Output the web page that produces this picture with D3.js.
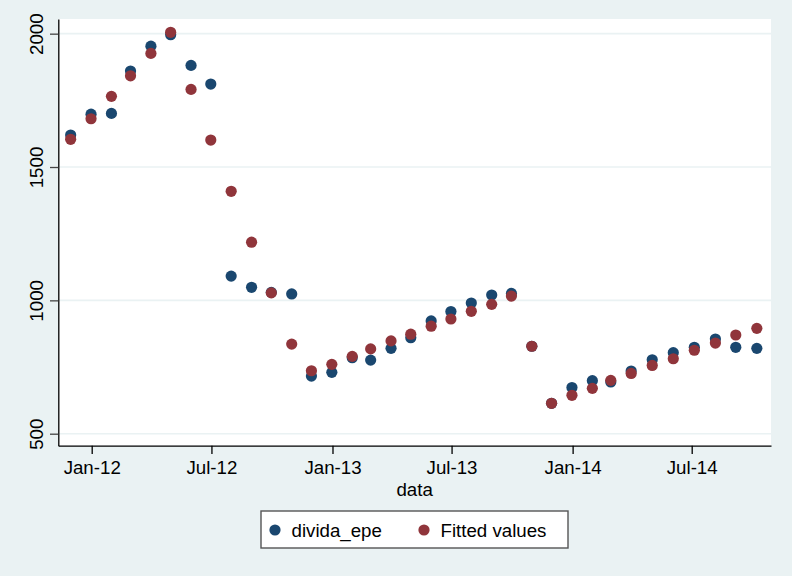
<!DOCTYPE html>
<html>
<head>
<meta charset="utf-8">
<script src="https://cdn.jsdelivr.net/npm/d3@7"></script>
<style>
  html, body { margin: 0; padding: 0; background: #eaf2f3; }
  svg { display: block; font-family: "Liberation Sans", Arial, Helvetica, sans-serif; }
</style>
</head>
<body>
<svg id="chart" width="792" height="576"></svg>
<script>
const dates = [
  "2011-11-30", "2011-12-31",
  "2012-01-31", "2012-02-29", "2012-03-31", "2012-04-30", "2012-05-31", "2012-06-30",
  "2012-07-31", "2012-08-31", "2012-09-30", "2012-10-31", "2012-11-30", "2012-12-31",
  "2013-01-31", "2013-02-28", "2013-03-31", "2013-04-30", "2013-05-31", "2013-06-30",
  "2013-07-31", "2013-08-31", "2013-09-30", "2013-10-31", "2013-11-30", "2013-12-31",
  "2014-01-31", "2014-02-28", "2014-03-31", "2014-05-02", "2014-06-03", "2014-07-05",
  "2014-08-06", "2014-09-06", "2014-10-08"
];

const dividaEpe = [
  1620, 1698, 1701, 1860, 1953, 1996, 1881, 1811, 1091, 1049, 1030, 1024,
  716, 730, 785, 776, 820, 860, 923, 958, 990, 1020, 1026, 828,
  614, 673, 699, 694, 735, 777, 804, 824, 855, 824, 820
];

const fittedValues = [
  1604, 1681, 1765, 1842, 1926, 2005, 1791, 1601, 1409, 1218, 1028, 836,
  736, 760, 790, 818, 848, 873, 903, 930, 959, 985, 1016, 828,
  614, 644, 670, 700, 726, 756, 781, 813, 840, 870, 895
];

const xTicks = ["2012-01-01", "2012-07-01", "2013-01-01", "2013-07-01", "2014-01-01", "2014-07-01"];
const yTicks = [500, 1000, 1500, 2000];

const legendLabels = ["divida_epe", "Fitted values"];
const colors = ["#1a476f", "#90353b"];

const parse = d3.utcParse("%Y-%m-%d");
const fmt = d3.utcFormat("%b-%y");

const plotL = 58.3, plotR = 771, plotT = 19, plotB = 445.7;
const fontSize = 18.7;

// anchor the time scale on two tick positions, then stretch to the plot edges
const x0 = d3.scaleUtc()
  .domain([parse(xTicks[0]), parse(xTicks[5])])
  .range([91.7, 691.7]);
const x = d3.scaleUtc()
  .domain([x0.invert(plotL), x0.invert(plotR)])
  .range([plotL, plotR]);
const y = d3.scaleLinear().domain([455, 2055]).range([plotB, plotT]);

const svg = d3.select("#chart");

svg.append("rect").attr("width", 792).attr("height", 576).attr("fill", "#eaf2f3");
svg.append("rect")
  .attr("x", plotL).attr("y", plotT)
  .attr("width", plotR - plotL).attr("height", plotB - plotT)
  .attr("fill", "#ffffff");

// grid lines
svg.append("g").selectAll("line").data(yTicks).enter()
  .append("line")
  .attr("x1", plotL).attr("x2", plotR)
  .attr("y1", d => y(d)).attr("y2", d => y(d))
  .attr("stroke", "#eaf2f3")
  .attr("stroke-width", 1.6);

// points: observed first, fitted on top
const series = [dividaEpe, fittedValues];
series.forEach((vals, s) => {
  svg.append("g").selectAll("circle").data(vals).enter()
    .append("circle")
    .attr("cx", (d, i) => x(parse(dates[i])))
    .attr("cy", d => y(d))
    .attr("r", 5.6)
    .attr("fill", colors[s]);
});

// y axis
const yAxis = svg.append("g")
  .attr("transform", `translate(${plotL},0)`)
  .call(d3.axisLeft(y).tickValues(yTicks).tickSize(8.3).tickSizeOuter(0).tickFormat(d3.format("d")));
yAxis.select(".domain").attr("stroke", "#000").attr("stroke-width", 1.3);
yAxis.selectAll(".tick line").attr("stroke", "#444").attr("stroke-width", 1.3);
yAxis.selectAll(".tick text")
  .attr("x", null).attr("dy", null)
  .attr("transform", "translate(-15,0) rotate(-90)")
  .attr("text-anchor", "middle")
  .attr("fill", "#000")
  .style("font-size", fontSize + "px");

// x axis
const xAxis = svg.append("g")
  .attr("transform", `translate(0,${plotB})`)
  .call(d3.axisBottom(x).tickValues(xTicks.map(parse)).tickSize(8.3).tickSizeOuter(0).tickFormat(fmt));
xAxis.select(".domain").attr("stroke", "#000").attr("stroke-width", 1.3);
xAxis.selectAll(".tick line").attr("stroke", "#000").attr("stroke-width", 1.3);
xAxis.selectAll(".tick text")
  .attr("y", 28.3).attr("dy", null)
  .attr("fill", "#000")
  .style("font-size", fontSize + "px");

svg.append("text")
  .attr("x", (plotL + plotR) / 2).attr("y", 496)
  .attr("text-anchor", "middle")
  .style("font-size", fontSize + "px")
  .text("data");

// legend
const legend = svg.append("g");
legend.append("rect")
  .attr("x", 261).attr("y", 511)
  .attr("width", 307).attr("height", 37)
  .attr("fill", "#fff")
  .attr("stroke", "#555")
  .attr("stroke-width", 1.4);
const legendX = [275, 424];
legendLabels.forEach((lab, i) => {
  legend.append("circle")
    .attr("cx", legendX[i]).attr("cy", 530)
    .attr("r", 5.6)
    .attr("fill", colors[i]);
  legend.append("text")
    .attr("x", legendX[i] + 16.5).attr("y", 537)
    .style("font-size", fontSize + "px")
    .text(lab);
});
</script>
</body>
</html>
